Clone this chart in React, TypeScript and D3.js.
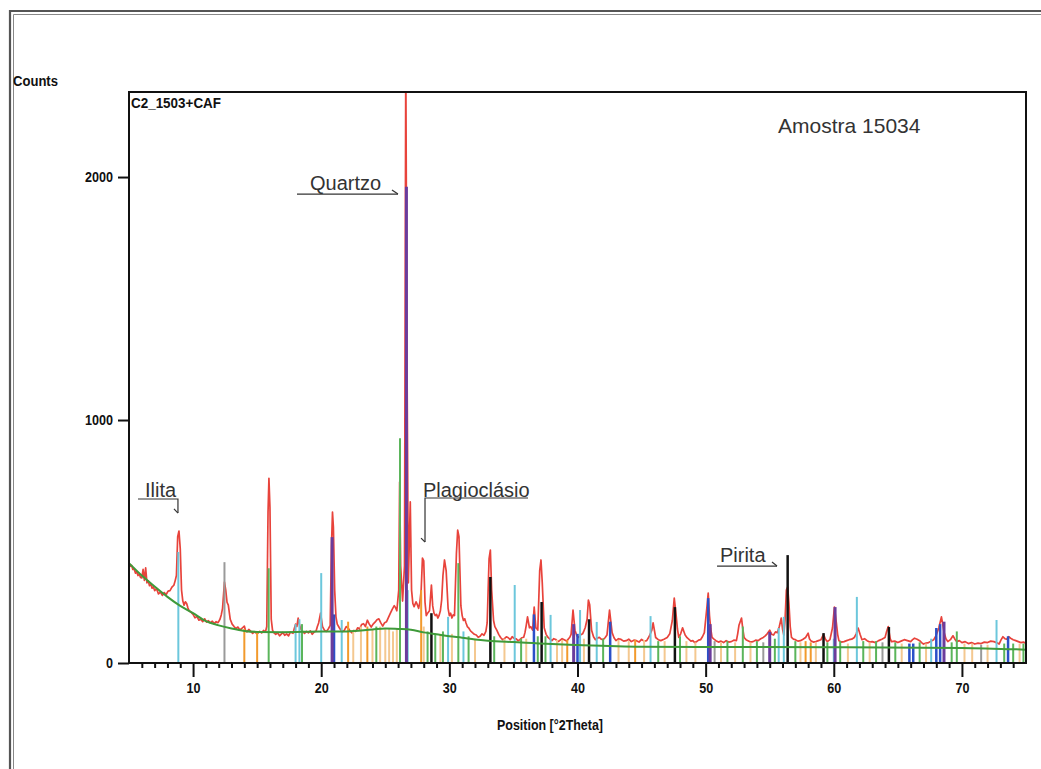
import React, { useEffect, useRef } from "react";
import * as d3 from "d3";

const W = 1041;
const H = 769;
const X_DOMAIN: [number, number] = [5, 75];
const Y_DOMAIN: [number, number] = [0, 2350];
const xMajorTicks = [10, 20, 30, 40, 50, 60, 70];
const xMinorTicks = d3.range(6, 75).filter((v) => v % 10 !== 0);
const yMajorTicks = [0, 1000, 2000];

// observed diffraction pattern [°2θ, counts]
const observed: [number, number][] = [
  [5.0, 410], [5.1, 398], [5.2, 402], [5.3, 385], [5.4, 388], [5.5, 370], [5.6, 376], [5.7, 360], [5.8, 366],
  [5.9, 352], [6.0, 350], [6.1, 385], [6.2, 340], [6.3, 392], [6.4, 330], [6.5, 338], [6.6, 318], [6.7, 326],
  [6.8, 308], [6.9, 314], [7.0, 298], [7.15, 306], [7.3, 284], [7.45, 292], [7.6, 278], [7.75, 290], [7.9, 282],
  [8.05, 296], [8.2, 298], [8.35, 312], [8.5, 320], [8.6, 338], [8.7, 360], [8.8, 520], [8.9, 543], [9.0, 470],
  [9.1, 300], [9.2, 255], [9.3, 238], [9.4, 252], [9.5, 245], [9.6, 226], [9.7, 215], [9.85, 208], [10.0, 200],
  [10.15, 186], [10.3, 192], [10.45, 176], [10.6, 180], [10.75, 170], [10.9, 182], [11.05, 168], [11.2, 174],
  [11.35, 165], [11.5, 172], [11.65, 162], [11.8, 170], [11.95, 166], [12.1, 180], [12.2, 198], [12.3, 225],
  [12.45, 333], [12.55, 300], [12.65, 250], [12.75, 238], [12.9, 180], [13.05, 160], [13.2, 150], [13.35, 142],
  [13.5, 148], [13.65, 136], [13.8, 142], [14.0, 152], [14.1, 132], [14.2, 128], [14.35, 138], [14.5, 130],
  [14.65, 122], [14.8, 128], [15.0, 120], [15.2, 130], [15.35, 124], [15.5, 134], [15.65, 128], [15.75, 150],
  [15.85, 620], [15.92, 760], [16.0, 640], [16.1, 180], [16.2, 135], [16.3, 125], [16.45, 118], [16.6, 124],
  [16.75, 112], [16.9, 120], [17.0, 126], [17.15, 114], [17.3, 120], [17.45, 112], [17.6, 128], [17.8, 122],
  [17.9, 142], [18.0, 160], [18.1, 150], [18.2, 185], [18.3, 158], [18.4, 140], [18.55, 130], [18.7, 122],
  [18.85, 130], [19.0, 124], [19.15, 132], [19.3, 118], [19.45, 128], [19.6, 132], [19.7, 150], [19.8, 165],
  [19.95, 205], [20.1, 150], [20.25, 135], [20.4, 130], [20.55, 140], [20.7, 155], [20.8, 480], [20.88, 621],
  [20.95, 560], [21.05, 300], [21.15, 190], [21.25, 160], [21.4, 146], [21.5, 138], [21.65, 128], [21.8, 134],
  [21.95, 150], [22.1, 144], [22.25, 132], [22.4, 124], [22.55, 134], [22.7, 130], [22.85, 145], [23.0, 140],
  [23.15, 158], [23.3, 162], [23.45, 150], [23.6, 176], [23.75, 160], [23.9, 148], [24.05, 160], [24.2, 168],
  [24.35, 178], [24.5, 182], [24.65, 165], [24.8, 152], [24.95, 166], [25.1, 170], [25.25, 188], [25.4, 205],
  [25.55, 222], [25.7, 236], [25.8, 228], [25.9, 215], [26.05, 300], [26.12, 745], [26.2, 400], [26.35, 255],
  [26.5, 400], [26.6, 2500], [26.7, 1200], [26.8, 330], [26.95, 663], [27.05, 300], [27.15, 245], [27.25, 232],
  [27.4, 252], [27.5, 240], [27.6, 225], [27.7, 250], [27.8, 300], [27.9, 432], [28.0, 420], [28.1, 250],
  [28.2, 195], [28.3, 205], [28.45, 215], [28.6, 321], [28.7, 235], [28.8, 205], [28.9, 195], [29.0, 200],
  [29.1, 185], [29.2, 196], [29.3, 215], [29.4, 260], [29.5, 360], [29.62, 424], [29.75, 380], [29.9, 225],
  [30.0, 195], [30.1, 205], [30.2, 185], [30.3, 198], [30.4, 195], [30.55, 450], [30.65, 547], [30.75, 520],
  [30.9, 235], [31.0, 195], [31.1, 175], [31.2, 182], [31.3, 165], [31.4, 150], [31.5, 145], [31.65, 132],
  [31.8, 125], [31.95, 118], [32.1, 115], [32.25, 106], [32.4, 110], [32.55, 120], [32.7, 114], [32.85, 130],
  [32.95, 165], [33.1, 430], [33.2, 465], [33.3, 300], [33.45, 175], [33.55, 150], [33.7, 135], [33.85, 118],
  [34.0, 105], [34.15, 96], [34.3, 100], [34.45, 108], [34.6, 104], [34.75, 96], [34.9, 108], [35.05, 102],
  [35.2, 100], [35.35, 92], [35.5, 96], [35.65, 104], [35.8, 106], [35.9, 125], [36.0, 155], [36.1, 190],
  [36.25, 145], [36.35, 150], [36.5, 135], [36.62, 230], [36.75, 145], [36.85, 140], [36.9, 135], [37.05, 380],
  [37.15, 424], [37.25, 330], [37.4, 145], [37.55, 118], [37.7, 105], [37.85, 98], [38.0, 92], [38.15, 100],
  [38.3, 97], [38.45, 88], [38.6, 92], [38.8, 100], [39.0, 95], [39.15, 90], [39.3, 100], [39.4, 106],
  [39.5, 118], [39.65, 218], [39.8, 135], [39.95, 112], [40.1, 105], [40.25, 116], [40.4, 120], [40.5, 132],
  [40.6, 145], [40.75, 180], [40.85, 259], [40.95, 240], [41.1, 135], [41.25, 108], [41.4, 96], [41.55, 102],
  [41.7, 106], [41.85, 98], [42.0, 96], [42.15, 104], [42.3, 115], [42.5, 218], [42.7, 125], [42.85, 104],
  [43.0, 92], [43.2, 100], [43.4, 97], [43.6, 90], [43.8, 92], [44.0, 98], [44.2, 88], [44.4, 94],
  [44.6, 92], [44.8, 86], [45.0, 97], [45.2, 90], [45.4, 92], [45.6, 110], [45.8, 135], [45.9, 165],
  [46.1, 105], [46.3, 96], [46.5, 92], [46.75, 98], [47.0, 105], [47.2, 120], [47.4, 175], [47.55, 267],
  [47.7, 195], [47.8, 140], [47.9, 105], [48.05, 120], [48.2, 145], [48.3, 130], [48.4, 115], [48.55, 104],
  [48.7, 97], [48.85, 90], [49.0, 92], [49.15, 84], [49.3, 88], [49.45, 94], [49.6, 96], [49.75, 108],
  [49.9, 125], [50.1, 230], [50.2, 288], [50.3, 195], [50.4, 140], [50.5, 105], [50.65, 98], [50.8, 92],
  [51.0, 86], [51.2, 90], [51.4, 84], [51.6, 92], [51.8, 86], [52.0, 88], [52.2, 94], [52.4, 92],
  [52.5, 120], [52.6, 155], [52.8, 185], [52.9, 140], [53.0, 105], [53.15, 96], [53.3, 92], [53.5, 86],
  [53.7, 88], [53.9, 94], [54.1, 92], [54.3, 100], [54.5, 105], [54.65, 112], [54.8, 120], [55.0, 135],
  [55.15, 118], [55.3, 115], [55.45, 128], [55.6, 125], [55.75, 150], [55.9, 185], [56.0, 140], [56.1, 115],
  [56.2, 180], [56.3, 300], [56.4, 313], [56.5, 245], [56.6, 150], [56.7, 105], [56.85, 98], [57.0, 96],
  [57.2, 90], [57.4, 92], [57.6, 98], [57.8, 105], [58.0, 123], [58.1, 100], [58.2, 92], [58.4, 86],
  [58.6, 88], [58.8, 92], [59.0, 96], [59.2, 118], [59.35, 98], [59.5, 88], [59.7, 96], [59.9, 145],
  [60.05, 230], [60.2, 165], [60.3, 118], [60.4, 92], [60.6, 86], [60.8, 88], [61.0, 92], [61.2, 96],
  [61.4, 98], [61.6, 105], [61.75, 120], [61.9, 144], [62.05, 118], [62.2, 96], [62.4, 100], [62.6, 92],
  [62.8, 86], [63.0, 88], [63.25, 84], [63.5, 92], [63.75, 98], [64.0, 105], [64.1, 125], [64.25, 150],
  [64.4, 100], [64.5, 88], [64.75, 90], [65.0, 84], [65.25, 90], [65.5, 96], [65.75, 92], [66.0, 88],
  [66.15, 96], [66.3, 102], [66.5, 98], [66.7, 92], [66.85, 84], [67.0, 78], [67.2, 82], [67.4, 84],
  [67.6, 90], [67.8, 96], [68.0, 115], [68.2, 145], [68.4, 190], [68.5, 160], [68.6, 128], [68.75, 100],
  [68.9, 88], [69.1, 96], [69.3, 112], [69.45, 98], [69.6, 88], [69.8, 92], [70.0, 84], [70.25, 88],
  [70.5, 80], [70.75, 84], [71.0, 78], [71.25, 82], [71.5, 80], [71.75, 86], [72.0, 84], [72.25, 90],
  [72.5, 88], [72.7, 84], [72.9, 78], [73.05, 95], [73.2, 108], [73.35, 100], [73.5, 98], [73.65, 108],
  [73.8, 102], [74.0, 96], [74.2, 92], [74.4, 88], [74.6, 84], [74.8, 86], [75.0, 80],
];

// fitted background [°2θ, counts]
const background: [number, number][] = [
  [5, 411], [6, 360], [7, 315], [8, 272], [9, 235], [10, 205], [11, 172], [12, 155], [13, 142],
  [14, 132], [15, 128], [17, 127], [20, 130], [22, 130], [24, 138], [25, 142], [26, 140], [27, 137],
  [28, 126], [29, 118], [30, 110], [31, 104], [32, 97], [33, 92], [35, 86], [36.5, 82], [38, 78],
  [40, 74], [45, 67], [50, 66], [60, 65], [70, 62], [75, 55],
];

// reference pattern sticks per phase colour [°2θ, counts]
const cyanSticks: [number, number][] = [
  [8.85, 457], [18.0, 160], [18.3, 180], [20.0, 370], [21.6, 177], [26.75, 300], [29.9, 190], [31.1, 130],
  [35.1, 321], [37.9, 198], [40.2, 218], [41.5, 169], [45.7, 193], [55.7, 144], [56.1, 190], [60.0, 100],
  [61.8, 272], [67.6, 100], [72.7, 177],
];
const orangeSticks: [number, number][] = [
  [14.0, 140], [15.0, 130], [22.1, 170], [23.6, 150], [27.8, 300], [39.2, 95], [44.5, 95], [57.8, 90], [58.2, 85],
];
const tanSticks: [number, number][] = [
  [22.5, 130], [23.1, 150], [24.0, 140], [24.6, 150], [25.0, 140], [25.3, 140], [25.6, 130], [25.9, 140],
  [28.0, 150], [29.3, 120], [30.2, 120], [32.0, 100], [34.3, 100], [36.0, 100], [38.4, 95], [38.8, 95],
  [40.5, 100], [43.2, 95], [44.0, 90], [45.2, 95], [46.8, 90], [48.5, 90], [49.2, 85], [51.2, 85],
  [52.3, 85], [53.5, 85], [57.4, 85], [58.6, 85], [61.1, 80], [62.8, 85], [65.3, 80], [67.2, 80],
  [70.2, 80], [70.8, 80], [72.0, 75], [74.5, 80],
];
const greenSticks: [number, number][] = [
  [15.9, 390], [18.5, 160], [24.3, 150], [26.15, 925], [28.3, 130], [28.9, 120], [29.5, 130], [30.7, 411],
  [31.5, 110], [33.5, 110], [35.6, 100], [36.9, 110], [37.5, 110], [42.0, 100], [46.3, 90], [48.0, 110],
  [51.7, 90], [52.9, 150], [54.0, 90], [55.4, 100], [57.0, 90], [59.5, 85], [60.5, 90], [62.3, 90],
  [63.3, 90], [64.8, 85], [66.7, 85], [69.2, 85], [69.6, 130], [73.3, 80], [74.0, 80], [74.8, 80],
];
const blueSticks: [number, number][] = [
  [21.0, 200], [36.6, 200], [40.0, 120], [42.55, 170], [50.2, 267], [65.9, 80], [66.2, 80], [68.0, 144],
  [68.3, 160], [73.6, 110],
];
const purpleSticks: [number, number][] = [
  [20.85, 518], [26.65, 1960], [39.7, 160], [50.35, 160], [55.0, 128], [60.1, 230], [68.6, 170],
];
const blackSticks: [number, number][] = [
  [28.6, 205], [33.2, 354], [37.2, 251], [40.9, 180], [47.6, 230], [56.4, 444], [59.2, 123], [64.3, 148],
];
const graySticks: [number, number][] = [
  [12.45, 415], [50.7, 90], [54.5, 85], [63.8, 85], [71.5, 75],
];

const phases = [
  { sticks: tanSticks, color: "#f4c890", width: 2 },
  { sticks: orangeSticks, color: "#f29a2c", width: 2 },
  { sticks: greenSticks, color: "#5bb55b", width: 2 },
  { sticks: cyanSticks, color: "#6cc7dc", width: 2 },
  { sticks: graySticks, color: "#9a9a9a", width: 2 },
  { sticks: blueSticks, color: "#2b50c8", width: 2.5 },
  { sticks: purpleSticks, color: "#6a3c9c", width: 3 },
  { sticks: blackSticks, color: "#111111", width: 2.5 },
];

const AXFONT = "'Liberation Sans', Arial, sans-serif";
const SANS = "'Liberation Sans', Arial, 'DejaVu Sans', sans-serif";

export default function App() {
  const xMajorRef = useRef<SVGGElement>(null);
  const xMinorRef = useRef<SVGGElement>(null);
  const yRef = useRef<SVGGElement>(null);

  const plot = { left: 129, top: 92, right: 1026, bottom: 663 };
  const x = d3.scaleLinear().domain(X_DOMAIN).range([plot.left, plot.right]);
  const y = d3.scaleLinear().domain(Y_DOMAIN).range([plot.bottom, plot.top]);

  useEffect(() => {
    const style = (g: d3.Selection<SVGGElement, unknown, null, undefined>) => {
      g.select(".domain").remove();
      g.selectAll("line").attr("stroke", "#111").attr("stroke-width", 2);
      g.selectAll<SVGTextElement, number>("text")
        .attr("font-family", AXFONT)
        .attr("font-size", 15)
        .attr("font-weight", "bold")
        .attr("fill", "#111")
        .attr("textLength", (d) => String(d).length * 7)
        .attr("lengthAdjust", "spacingAndGlyphs");
    };
    const gMaj = d3.select(xMajorRef.current!);
    gMaj.call(d3.axisBottom(x).tickValues(xMajorTicks).tickSize(14).tickPadding(5).tickFormat(d3.format("d")));
    style(gMaj);
    const gMin = d3.select(xMinorRef.current!);
    gMin.call(d3.axisBottom(x).tickValues(xMinorTicks).tickSize(5).tickFormat(() => ""));
    gMin.select(".domain").remove();
    gMin.selectAll("line").attr("stroke", "#111").attr("stroke-width", 2);
    const gY = d3.select(yRef.current!);
    gY.call(d3.axisLeft(y).tickValues(yMajorTicks).tickSize(11).tickPadding(5).tickFormat(d3.format("d")));
    style(gY);
  }, []);

  const line = d3
    .line<[number, number]>()
    .x((d) => x(d[0]))
    .y((d) => y(d[1]));
  const smooth = d3
    .line<[number, number]>()
    .x((d) => x(d[0]))
    .y((d) => y(d[1]))
    .curve(d3.curveMonotoneX);

  const annColor = "#333";
  const annotations = [
    { label: "Quartzo", text: [19.13, 1947], path: [[18.11, 1930], [25.99, 1930]], head: [[25.52, 1947], [25.99, 1930]] },
    { label: "Ilita", text: [6.25, 683], path: [[5.7, 675], [8.82, 675], [8.82, 617]], head: [[8.51, 634], [8.82, 617]] },
    { label: "Plagioclásio", text: [27.94, 683], path: [[36.14, 679], [28.1, 679], [28.1, 498]], head: [[27.79, 514], [28.1, 498]] },
    { label: "Pirita", text: [51.12, 416], path: [[50.89, 399], [55.57, 399]], head: [[55.18, 416], [55.57, 399]] },
  ];

  const labelProps = { fontFamily: AXFONT, fontSize: 15, fontWeight: "bold", fill: "#111", lengthAdjust: "spacingAndGlyphs" };

  return (
    <div style={{ position: "absolute", left: 0, top: 0 }}>
      <svg width={W} height={H} style={{ display: "block", background: "#fff" }}>
        <defs>
          <clipPath id="plotClip">
            <rect x={plot.left} y={plot.top} width={plot.right - plot.left} height={plot.bottom - plot.top} />
          </clipPath>
        </defs>
        {/* outer double frame */}
        <path d={`M10,${H} L10,11 L${W},11`} fill="none" stroke="#555" strokeWidth={2.2} />
        <path d={`M13.5,${H} L13.5,14.5 L${W},14.5`} fill="none" stroke="#888" strokeWidth={1} />

        <g clipPath="url(#plotClip)">
          <path d={line(observed)!} fill="none" stroke="#e8433b" strokeWidth={1.7} strokeLinejoin="round" />
          {phases.map((p, i) =>
            p.sticks.map((s, j) => (
              <line
                key={`${i}-${j}`}
                x1={x(s[0])}
                x2={x(s[0])}
                y1={y(0)}
                y2={y(s[1])}
                stroke={p.color}
                strokeWidth={p.width}
              />
            ))
          )}
          <path d={smooth(background)!} fill="none" stroke="#3f9a3a" strokeWidth={2} />
        </g>

        <rect
          x={plot.left}
          y={plot.top}
          width={plot.right - plot.left}
          height={plot.bottom - plot.top}
          fill="none"
          stroke="#111"
          strokeWidth={2}
        />
        <g ref={xMinorRef} transform={`translate(0,${plot.bottom})`} />
        <g ref={xMajorRef} transform={`translate(0,${plot.bottom})`} />
        <g ref={yRef} transform={`translate(${plot.left},0)`} />

        <text x={13} y={86} textLength={45} {...labelProps}>Counts</text>
        <text x={131} y={108} textLength={90} {...labelProps}>C2_1503+CAF</text>
        <text x={497} y={730} textLength={106} {...labelProps}>Position [°2Theta]</text>

        <text x={x(55.65)} y={y(2181)} fontFamily={SANS} fontSize={21} fill={annColor}>Amostra 15034</text>

        {annotations.map((a) => (
          <g key={a.label}>
            <text x={x(a.text[0])} y={y(a.text[1])} fontFamily={SANS} fontSize={20} fill={annColor}>{a.label}</text>
            <path d={line(a.path as [number, number][])!} fill="none" stroke={annColor} strokeWidth={1.2} />
            <path d={line(a.head as [number, number][])!} fill="none" stroke={annColor} strokeWidth={1.2} />
          </g>
        ))}
      </svg>
    </div>
  );
}
